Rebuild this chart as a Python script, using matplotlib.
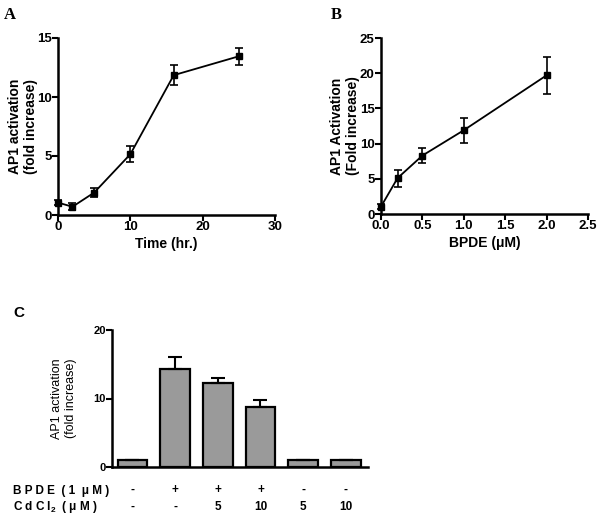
import numpy as np
import matplotlib
matplotlib.use('Agg')
import matplotlib.pyplot as plt

plt.rcParams['font.family'] = ['Liberation Sans', 'DejaVu Sans']
plt.rcParams['mathtext.fontset'] = 'custom'
plt.rcParams['mathtext.rm'] = 'Liberation Sans'
plt.rcParams['mathtext.bf'] = 'Liberation Sans:bold'

# panel A: time course
time_hr = [0, 2, 5, 10, 16, 25]
act_time = [1.05, 0.7, 1.9, 5.15, 11.85, 13.45]
err_time = [0.2, 0.3, 0.4, 0.7, 0.85, 0.7]

# panel B: dose response
bpde_um = [0.0, 0.2, 0.5, 1.0, 2.0]
act_dose = [1.05, 5.1, 8.3, 11.9, 19.7]
err_dose = [0.3, 1.2, 1.05, 1.8, 2.6]

# panel C: CdCl2 inhibition
act_cd = [1.0, 14.3, 12.3, 8.7, 1.0, 1.0]
err_cd = [0.0, 1.75, 0.65, 1.15, 0.0, 0.0]
bpde_row = ['-', '+', '+', '+', '-', '-']
cd_row = ['-', '-', '5', '10', '5', '10']

fig = plt.figure(figsize=(6.02, 5.18), dpi=100)
W, H = 602, 518


def axes_px(l, t, r, b):
    return fig.add_axes([l / W, 1 - b / H, (r - l) / W, (b - t) / H])


def style(ax, bold=True, size=9.5):
    for s in ['top', 'right']:
        ax.spines[s].set_visible(False)
    for s in ['left', 'bottom']:
        ax.spines[s].set_linewidth(1.8)
    ax.tick_params(width=1.5, length=4, labelsize=size, pad=0.5)
    if bold:
        for lab in ax.get_xticklabels() + ax.get_yticklabels():
            lab.set_fontweight('bold')


# A
axA = axes_px(58, 38, 275, 215)
axA.errorbar(time_hr, act_time, yerr=err_time, color='black', lw=1.3,
             marker='s', ms=5, capsize=3, elinewidth=1.2, capthick=1.2, clip_on=False)
axA.set_xlim(0, 30)
axA.set_ylim(0, 15)
axA.set_xticks([0, 10, 20, 30])
axA.set_yticks([0, 5, 10, 15])
style(axA)
axA.set_xlabel('Time (hr.)', fontsize=10, fontweight='bold', labelpad=3)
axA.set_ylabel('AP1 activation\n(fold increase)', fontsize=10, fontweight='bold')
axA.yaxis.set_label_coords(-0.09, 0.5)
fig.text(4 / W, 1 - 19 / H, 'A', fontsize=12, fontweight='bold', family='Liberation Serif')

# B
axB = axes_px(381, 38, 588, 214)
axB.errorbar(bpde_um, act_dose, yerr=err_dose, color='black', lw=1.3,
             marker='s', ms=5, capsize=3, elinewidth=1.2, capthick=1.2, clip_on=False)
axB.set_xlim(0, 2.5)
axB.set_ylim(0, 25)
axB.set_xticks(np.arange(0, 2.51, 0.5))
axB.set_yticks([0, 5, 10, 15, 20, 25])
style(axB)
axB.set_xlabel('BPDE (\u03bcM)', fontsize=10, fontweight='bold', labelpad=3)
axB.set_ylabel('AP1 Activation\n(Fold increase)', fontsize=10, fontweight='bold')
axB.yaxis.set_label_coords(-0.1, 0.5)
fig.text(331 / W, 1 - 19 / H, 'B', fontsize=12, fontweight='bold', family='Liberation Serif')

# C
axC = axes_px(112, 330, 368, 467)
pos = np.arange(len(act_cd))
axC.bar(pos, act_cd, width=0.69, color='#9a9a9a', edgecolor='black', linewidth=1.6,
        yerr=[np.zeros(len(err_cd)), err_cd],
        error_kw=dict(ecolor='black', elinewidth=1.5, capsize=5, capthick=1.5))
axC.set_xlim(-0.48, 5.52)
axC.set_ylim(0, 20)
axC.set_yticks([0, 10, 20])
axC.set_xticks([])
style(axC, size=8)
axC.set_ylabel('AP1 activation\n(fold increase)', fontsize=9)
axC.yaxis.set_label_coords(-0.137, 0.5)
fig.text(13 / W, 1 - 317 / H, 'C', fontsize=11, fontweight='bold')

tr = axC.get_xaxis_transform()
for i in pos:
    axC.text(i, -0.17, bpde_row[i], transform=tr, ha='center', va='center',
             fontsize=8.5, fontweight='bold')
    axC.text(i, -0.29, cd_row[i], transform=tr, ha='center', va='center',
             fontsize=8.5, fontweight='bold')
fig.text(13 / W, 1 - 491 / H, 'B P D E  ( 1  \u03bc M )', fontsize=8.5,
         fontweight='bold', va='center')
fig.text(13 / W, 1 - 507 / H, r'C d C l$_\mathbf{2}$  ( $\mathbf{\mu}$ M )', fontsize=8.5,
         fontweight='bold', va='center')

fig.savefig('out.png', dpi=100)
